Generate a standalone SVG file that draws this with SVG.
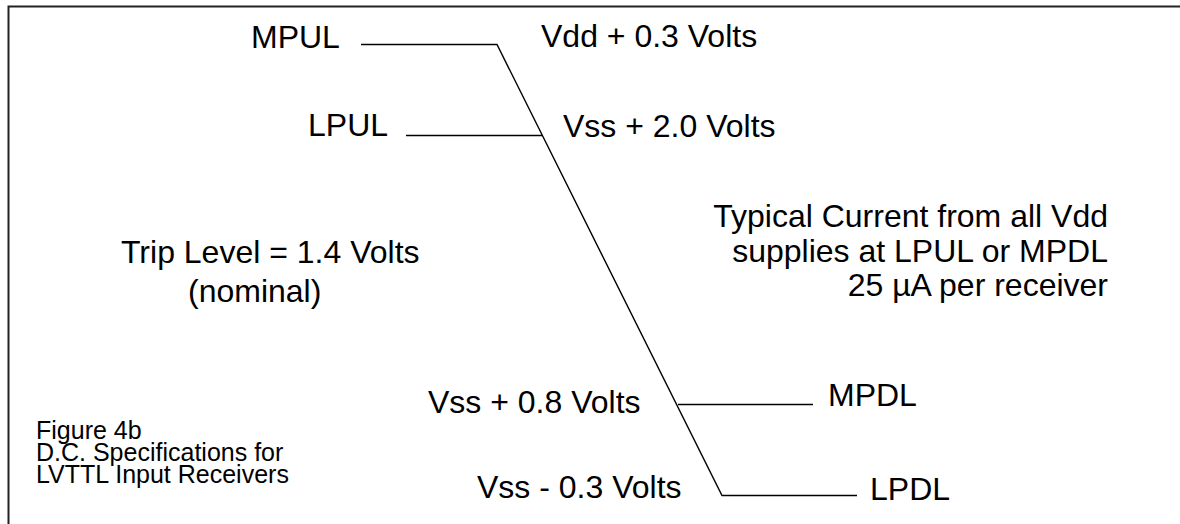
<svg xmlns="http://www.w3.org/2000/svg" width="1180" height="524" viewBox="0 0 1180 524">
<style>
.t{font-family:"Liberation Sans",Arial,sans-serif;font-size:32px;fill:#000}
.s{font-family:"Liberation Sans",Arial,sans-serif;font-size:25px;fill:#000}
.ln{stroke:#000;stroke-width:1.4;fill:none}
</style>
<rect width="1180" height="524" fill="#fff"/>
<path d="M8.5 524 V6.5 H1180" stroke="#222" stroke-width="2" fill="none"/>
<g id="connectors">
<polyline class="ln" points="361,44.5 497,44.5 722,495.5 857,495.5"/>
<line class="ln" x1="406" y1="135.5" x2="542" y2="135.5"/>
<line class="ln" x1="678" y1="404.5" x2="813" y2="404.5"/>
</g>
<g id="mpul"><text class="t" x="251" y="48">MPUL</text></g>
<g id="lpul"><text class="t" x="308" y="136">LPUL</text></g>
<g id="vdd03"><text class="t" x="541" y="47">Vdd + 0.3 Volts</text></g>
<g id="vss20"><text class="t" x="563" y="137">Vss + 2.0 Volts</text></g>
<g id="trip"><text class="t" x="121" y="263">Trip Level = 1.4 Volts</text><text class="t" x="188" y="302">(nominal)</text></g>
<g id="current"><text class="t" x="1108" y="227" text-anchor="end">Typical Current from all Vdd</text><text class="t" x="1108" y="262" text-anchor="end">supplies at LPUL or MPDL</text><text class="t" x="1108" y="296" text-anchor="end">25 µA per receiver</text></g>
<g id="vss08"><text class="t" x="428" y="413">Vss + 0.8 Volts</text></g>
<g id="vss03"><text class="t" x="477" y="498">Vss - 0.3 Volts</text></g>
<g id="mpdl"><text class="t" x="828" y="406">MPDL</text></g>
<g id="lpdl"><text class="t" x="870" y="500">LPDL</text></g>
<g id="caption"><text class="s" x="36" y="439">Figure 4b</text><text class="s" x="36" y="461">D.C. Specifications for</text><text class="s" x="36" y="483">LVTTL Input Receivers</text></g>
</svg>
